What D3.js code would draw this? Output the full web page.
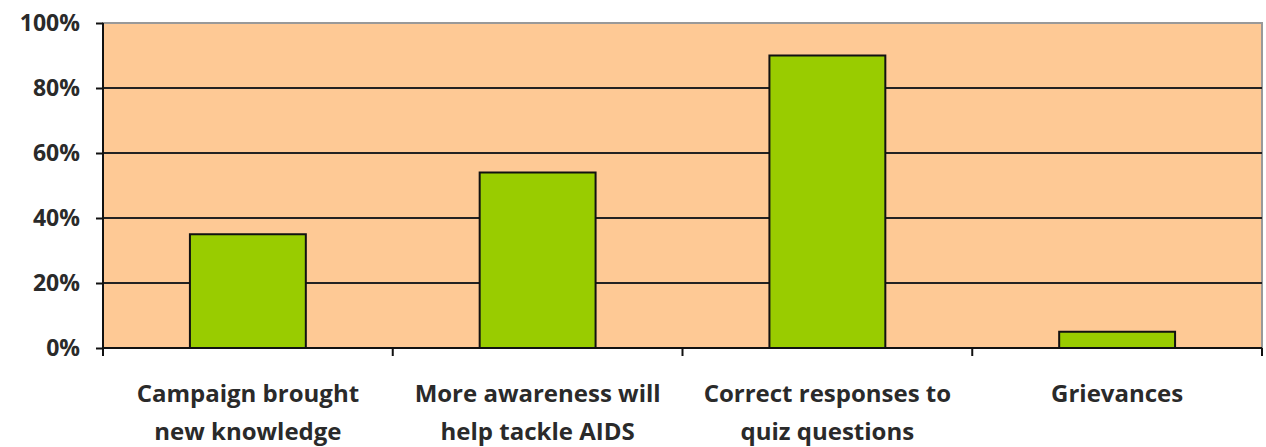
<!DOCTYPE html>
<html><head><meta charset="utf-8">
<script src="https://cdn.jsdelivr.net/npm/d3@7"></script>
<style>body{margin:0;background:#fff}svg{display:block}</style>
</head><body>
<svg id="c" width="1266" height="447"></svg>
<script>
const categories = [["Campaign brought","new knowledge"],["More awareness will","help tackle AIDS"],["Correct responses to","quiz questions"],["Grievances"]];
const values = [0.35, 0.54, 0.90, 0.05];
const yTicks = [0, 0.2, 0.4, 0.6, 0.8, 1.0];
const yTickLabels = ["0%","20%","40%","60%","80%","100%"];

const svg = d3.select("#c");
const L = 103, R = 1262, T = 23, B = 348;
const x = d3.scaleBand().domain(d3.range(categories.length)).range([L, R]).paddingInner(0.6).paddingOuter(0.3);
const xb = d3.scaleBand().domain(d3.range(categories.length)).range([L, R]).padding(0);
const y = d3.scaleLinear().domain([0, 1]).range([B, T]);

svg.append("rect").attr("x", L).attr("y", T).attr("width", R - L).attr("height", B - T)
  .attr("fill", "#fec995").attr("stroke", "#999").attr("stroke-width", 2);

svg.append("g").selectAll("line").data(yTicks.filter(d => d > 0)).join("line")
  .attr("x1", L).attr("x2", R).attr("y1", d => y(d)).attr("y2", d => y(d))
  .attr("stroke", d => d === 1 ? "#999" : "#222").attr("stroke-width", 2);

svg.append("g").selectAll("rect").data(values).join("rect")
  .attr("x", (d, i) => x(i)).attr("width", x.bandwidth())
  .attr("y", d => y(d)).attr("height", d => B - y(d))
  .attr("fill", "#99cc00").attr("stroke", "#111").attr("stroke-width", 2);

const yAxis = d3.axisLeft(y).tickValues(yTicks).tickFormat((d, i) => yTickLabels[i]).tickSize(7).tickPadding(16);
const gy = svg.append("g").attr("transform", `translate(${L},0)`).call(yAxis);
gy.select(".domain").attr("stroke", "#111").attr("stroke-width", 2).attr("d", `M0,${T}V${B}`);
gy.selectAll(".tick line").attr("stroke", "#111").attr("stroke-width", 2);
gy.selectAll(".tick text").attr("font-family", "Open Sans, sans-serif").attr("font-weight", "bold")
  .attr("font-size", 23).attr("fill", "#2a2a2a");

const gx = svg.append("g").attr("transform", `translate(0,${B})`);
gx.append("line").attr("x1", L).attr("x2", R).attr("stroke", "#111").attr("stroke-width", 2);
gx.selectAll("line.t").data(d3.range(categories.length + 1)).join("line").attr("class", "t")
  .attr("x1", i => i < categories.length ? xb(i) : R).attr("x2", i => i < categories.length ? xb(i) : R)
  .attr("y1", 0).attr("y2", 8).attr("stroke", "#111").attr("stroke-width", 2);

const lbl = svg.append("g").selectAll("text").data(categories).join("text")
  .attr("text-anchor", "middle").attr("font-family", "Open Sans, sans-serif").attr("font-weight", "bold")
  .attr("font-size", 24).attr("fill", "#2a2a2a");
lbl.each(function(d, i) {
  const t = d3.select(this);
  d.forEach((line, j) => {
    t.append("tspan").attr("x", xb(i) + xb.bandwidth() / 2).attr("y", 402 + j * 38).text(line);
  });
});
</script>
</body></html>
